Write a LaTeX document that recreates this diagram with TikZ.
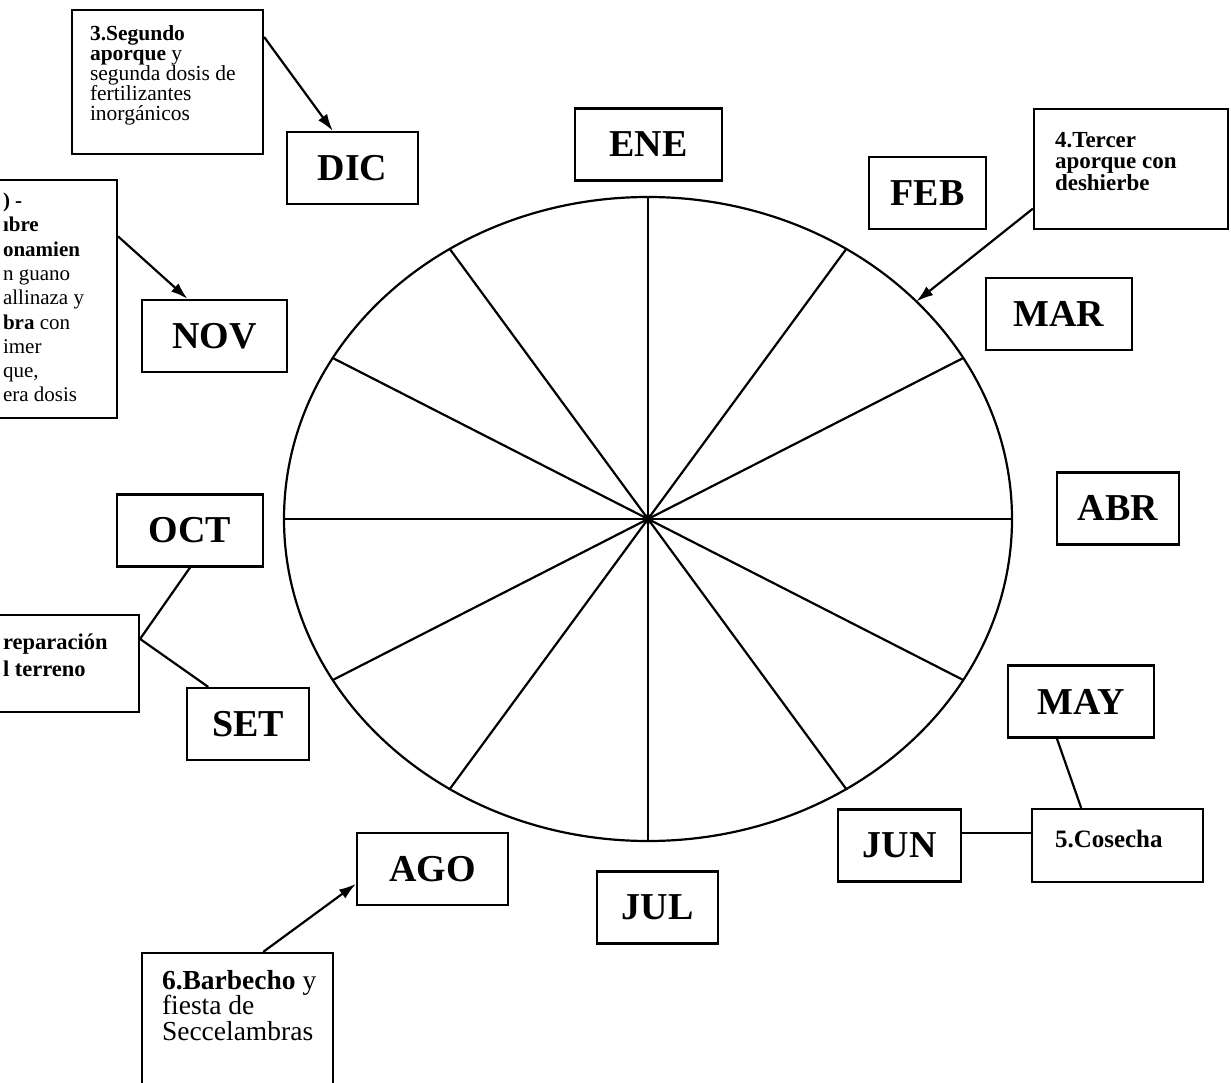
\documentclass[tikz,border=0pt]{standalone}
\usepackage{fontspec}
\setmainfont{Liberation Serif}
\usetikzlibrary{arrows.meta,positioning,calc}

\begin{document}
\begin{tikzpicture}[x=1pt,y=1pt,line width=2.2pt,>={Latex[length=17pt,width=11pt]}]
\tikzstyle{every node}=[inner sep=0pt]
\tikzstyle{month}=[draw,minimum height=72pt,font=\fontsize{38}{38}\selectfont\bfseries]
\tikzstyle{note}=[draw]
\tikzstyle{txt}=[align=left]
\useasboundingbox (0,0) rectangle (1231,-1083);
\coordinate (c) at (648,-519);

% wheel of months
\draw (c) ellipse [x radius=364pt, y radius=322pt];
\foreach \a in {0,30,57,90,123,150,180,210,237,270,303,330}
  \draw (c) -- ($(c)+(\a:364pt and 322pt)$);
\fill (c) circle (5pt);
\coordinate (p4) at ($(c)+(42.5:364pt and 322pt)$);

\draw
  (648.5,-144.5) node [month,minimum width=147pt] (ene) {ENE}
  (927.5,-193)   node [month,minimum width=117pt] (feb) {FEB}
  (1059,-314)    node [month,minimum width=146pt] (mar) {MAR}
  (1118,-508.5)  node [month,minimum width=122pt] (abr) {ABR}
  (1081,-701.5)  node [month,minimum width=146pt] (may) {MAY}
  (899.5,-845.5) node [month,minimum width=123pt] (jun) {JUN}
  (657.5,-907.5) node [month,minimum width=121pt] (jul) {JUL}
  (432.5,-869)   node [month,minimum width=151pt] (ago) {AGO}
  (248,-724)     node [month,minimum width=122pt] (set) {SET}
  (190,-530.5)   node [month,minimum width=146pt] (oct) {OCT}
  (214.5,-336)   node [month,minimum width=145pt] (nov) {NOV}
  (352.5,-168)   node [month,minimum width=131pt] (dic) {DIC}
;

% activity boxes
\node [note,minimum width=191pt,minimum height=144pt] (seg) at (167.5,-82) {};
\node [note,minimum width=194pt,minimum height=120pt] (ter) at (1131,-169) {};
\node [note,minimum width=171pt,minimum height=73pt]  (cos) at (1117.5,-845.5) {};
\node [note,minimum width=191pt,minimum height=147pt] (bar) at (237.5,-1026.5) {};
\node [note,minimum width=169pt,minimum height=97pt]  (pre) at (54.5,-663.5) {};
\node [note,minimum width=147pt,minimum height=238pt] (abo) at (43.5,-299) {};

\node [txt,below right=16pt and 18pt of seg.north west,font=\fontsize{21.5}{20}\selectfont] (segtxt)
  {\textbf{3.Segundo}\\\textbf{aporque} y\\segunda dosis de\\fertilizantes\\inorgánicos};
\node [txt,below right=23pt and 21pt of ter.north west,font=\fontsize{23}{21.5}\selectfont\bfseries] (tertxt)
  {4.Tercer\\aporque con\\deshierbe};
\node [txt,below right=21pt and 23pt of cos.north west,font=\fontsize{25}{20}\selectfont\bfseries] (costxt)
  {5.Cosecha};
\node [txt,below right=17pt and 20pt of bar.north west,font=\fontsize{27.5}{25.5}\selectfont] (bartxt)
  {\textbf{6.Barbecho} y\\fiesta de\\Seccelambras};
\node [txt,below right=19pt and 33pt of pre.north west,font=\fontsize{22.5}{27}\selectfont\bfseries] (pretxt)
  {reparación\\l terreno};
\node [txt,below right=13pt and 33pt of abo.north west,font=\fontsize{21}{24.3}\selectfont] (abotxt)
  {\textbf{) -}\\\textbf{\i bre}\\\textbf{onamien}\\n guano\\allinaza y\\\textbf{bra} con\\imer\\que,\\era dosis};

\path[draw]
(seg.25)  edge [->] (dic.118)
(abo.40)  edge [->] (nov.126)
(ter.202) edge [->] (p4)
(bar.71)  edge [->] (ago.191)
(oct.south) edge (pre.16)
(pre.16)  edge (set.137)
(may.237) edge (cos.134)
(jun.11)  edge (jun.11 -| cos.west)
;
\end{tikzpicture}
\end{document}
